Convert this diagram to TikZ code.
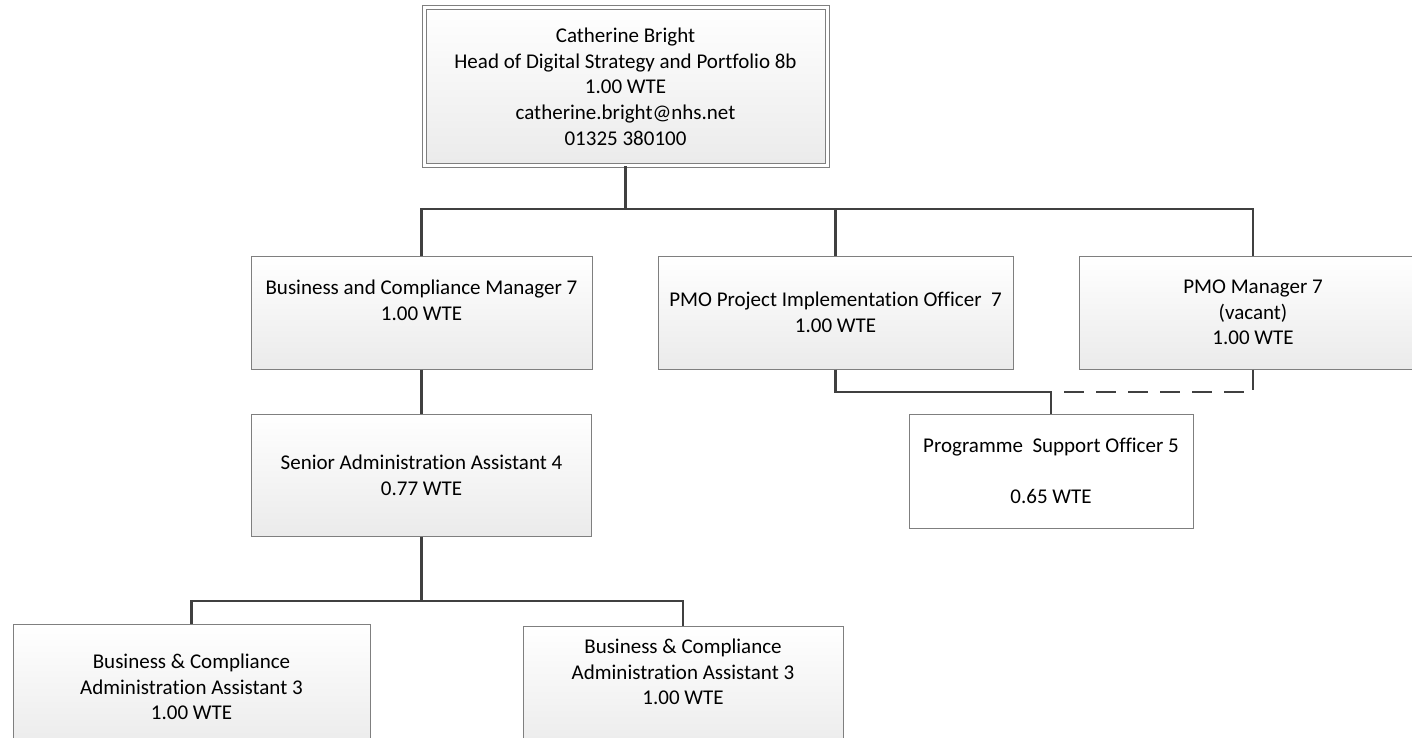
\documentclass[tikz,border=0pt]{standalone}
\usepackage{fontspec}
\setmainfont{Carlito}[RawFeature={-liga;-clig;-calt;-dlig}]
\usepackage{tikz}
\usetikzlibrary{positioning}

\definecolor{boxline}{HTML}{7F7F7F}
\definecolor{linkline}{HTML}{404040}

\begin{document}
\begin{tikzpicture}[x=1pt, y=-1pt,
    post/.style={draw=boxline, line width=1pt, top color=white, bottom color=black!8,
        align=center, inner sep=0pt, font=\fontsize{21}{25.6}\selectfont},
    headpost/.style={post, double=white, double distance=3pt},
    plainpost/.style={post, fill=white, top color=white, bottom color=white},
    link/.style={draw=linkline, line width=2.2pt},
    dottedlink/.style={link, dash pattern=on 20pt off 12pt}]
    \useasboundingbox (0,0) rectangle (1412,738);

    % head of service
    \node[headpost, minimum width=403pt, minimum height=158.5pt] (head) at (625.5,86.75)
        {Catherine Bright\\Head of Digital Strategy and Portfolio 8b\\1.00 WTE\\catherine.bright@nhs.net\\01325 380100};

    % band 7 posts
    \node[post, minimum width=341pt, minimum height=113pt, text depth=25pt] (bcm) at (421.5,312.5)
        {Business and Compliance Manager 7\\1.00 WTE};
    \node[post, minimum width=355pt, minimum height=113pt] (pmo) at (835.5,312.5)
        {PMO Project Implementation Officer~ 7\\1.00 WTE};
    \node[post, minimum width=348pt, minimum height=113pt] (pmgr) at (1253,312.5)
        {PMO Manager 7\\(vacant)\\1.00 WTE};

    % lower posts
    \node[post, minimum width=340pt, minimum height=122pt] (senior) at (421.5,475)
        {Senior Administration Assistant 4\\0.77 WTE};
    \node[plainpost, minimum width=284pt, minimum height=114pt] (prog) at (1051,471)
        {Programme~ Support Officer 5\\[25.6pt]0.65 WTE};
    \node[post, minimum width=357pt, minimum height=126pt] (bca1) at (191.5,687)
        {Business \& Compliance\\Administration Assistant 3\\1.00 WTE};
    \node[post, minimum width=320pt, minimum height=128pt, text depth=36pt] (bca2) at (683,690)
        {Business \& Compliance\\Administration Assistant 3\\1.00 WTE};

    % connectors
    \coordinate (bus) at (625.5,209);
    \coordinate (subbus) at (421.5,601);
    \coordinate (psjoin) at (1051,392);

    \draw[link] (head.south) -- (bus);
    \draw[link] (bus) -| (bcm.north);
    \draw[link] (bus) -| (pmo.north);
    \draw[link] (bus) -| (pmgr.north);
    \draw[link] (bcm.south) -- (senior.north);
    \draw[link] (senior.south) -- (subbus);
    \draw[link] (subbus) -| (bca1.north);
    \draw[link] (subbus) -| (bca2.north);
    \draw[link] (pmo.south) |- (psjoin) -- (prog.north);
    \draw[dottedlink] (pmgr.south) |- (psjoin);
\end{tikzpicture}
\end{document}
